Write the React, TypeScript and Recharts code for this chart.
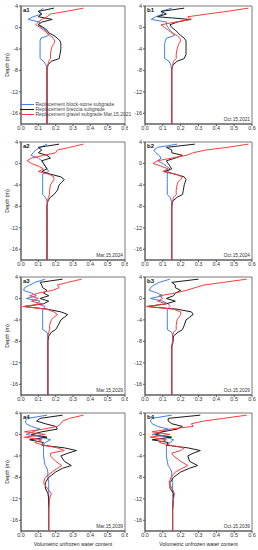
import React from 'react';
import { ScatterChart, Scatter, XAxis, YAxis, ReferenceArea } from 'recharts';

const depth = [3.6, 3.0, 2.5, 2.0, 1.5, 1.0, 0.5, 0.0, -0.5, -1.0, -1.5, -2.0, -2.5, -3.0, -3.5, -4.0, -5.0, -5.8, -6.3, -7.0, -8.0, -9.0, -10.0, -11.0, -12.0, -14.0, -16.0, -18.0];

const xTicks = [0, 0.1, 0.2, 0.3, 0.4, 0.5, 0.6];
const yTicks = [4, 0, -4, -8, -12, -16];

const seriesNames = ['Replacement block-stone subgrade', 'Replacement breccia subgrade', 'Replacement gravel subgrade'];
const panelIds = ['a1', 'b1', 'a2', 'b2', 'a3', 'b3', 'a4', 'b4'];
const panelDates = ['Mar.15,2021', 'Oct.15,2021', 'Mar.15,2024', 'Oct.15,2024', 'Mar.15,2029', 'Oct.15,2029', 'Mar.15,2039', 'Oct.15,2039'];

const a1Blue = [0.13, 0.10, 0.12, 0.07, 0.04, 0.11, 0.10, 0.12, 0.14, 0.15, 0.16, 0.115, 0.11, 0.11, 0.11, 0.11, 0.11, 0.11, 0.13, 0.145, 0.15, 0.15, 0.15, 0.15, 0.15, 0.15, 0.15, 0.15];
const a1Black = [0.19, 0.10, 0.12, 0.10, 0.18, 0.12, 0.10, 0.13, 0.15, 0.16, 0.19, 0.21, 0.225, 0.23, 0.23, 0.23, 0.225, 0.22, 0.175, 0.155, 0.15, 0.15, 0.15, 0.15, 0.15, 0.15, 0.15, 0.15];
const a1Red = [0.36, 0.26, 0.17, 0.15, 0.12, 0.10, 0.085, 0.11, 0.13, 0.15, 0.17, 0.185, 0.195, 0.19, 0.18, 0.175, 0.17, 0.17, 0.16, 0.155, 0.15, 0.15, 0.15, 0.15, 0.15, 0.15, 0.15, 0.15];

const b1Blue = [0.15, 0.09, 0.10, 0.06, 0.035, 0.12, 0.12, 0.13, 0.14, 0.155, 0.165, 0.12, 0.115, 0.11, 0.11, 0.11, 0.11, 0.11, 0.135, 0.145, 0.15, 0.15, 0.15, 0.15, 0.15, 0.15, 0.15, 0.15];
const b1Black = [0.22, 0.09, 0.12, 0.07, 0.25, 0.18, 0.14, 0.15, 0.17, 0.185, 0.20, 0.22, 0.23, 0.23, 0.23, 0.23, 0.23, 0.22, 0.18, 0.156, 0.15, 0.15, 0.15, 0.15, 0.15, 0.15, 0.15, 0.15];
const b1Red = [0.58, 0.46, 0.35, 0.24, 0.26, 0.17, 0.09, 0.11, 0.13, 0.15, 0.18, 0.195, 0.20, 0.19, 0.185, 0.18, 0.175, 0.175, 0.16, 0.155, 0.15, 0.15, 0.15, 0.15, 0.15, 0.15, 0.15, 0.15];

const a2Blue = [0.15, 0.11, 0.085, 0.07, 0.058, 0.10, 0.12, 0.13, 0.14, 0.15, 0.16, 0.125, 0.125, 0.125, 0.125, 0.125, 0.125, 0.125, 0.14, 0.15, 0.15, 0.15, 0.15, 0.15, 0.15, 0.15, 0.15, 0.15];
const a2Black = [0.22, 0.10, 0.12, 0.10, 0.15, 0.17, 0.12, 0.13, 0.14, 0.15, 0.12, 0.17, 0.23, 0.25, 0.235, 0.22, 0.21, 0.19, 0.17, 0.155, 0.15, 0.15, 0.15, 0.15, 0.15, 0.15, 0.15, 0.15];
const a2Red = [0.36, 0.28, 0.21, 0.20, 0.13, 0.06, 0.035, 0.06, 0.10, 0.13, 0.10, 0.16, 0.19, 0.19, 0.18, 0.17, 0.165, 0.165, 0.158, 0.153, 0.15, 0.15, 0.15, 0.15, 0.15, 0.15, 0.15, 0.15];

const b2Blue = [0.18, 0.07, 0.05, 0.06, 0.08, 0.09, 0.07, 0.10, 0.12, 0.14, 0.13, 0.125, 0.125, 0.125, 0.125, 0.125, 0.125, 0.125, 0.14, 0.148, 0.15, 0.15, 0.15, 0.15, 0.15, 0.15, 0.15, 0.15];
const b2Black = [0.28, 0.12, 0.15, 0.15, 0.21, 0.17, 0.12, 0.13, 0.14, 0.15, 0.11, 0.17, 0.22, 0.23, 0.225, 0.22, 0.215, 0.21, 0.18, 0.156, 0.15, 0.15, 0.15, 0.15, 0.15, 0.15, 0.15, 0.15];
const b2Red = [0.58, 0.46, 0.34, 0.27, 0.23, 0.15, 0.07, 0.045, 0.09, 0.13, 0.10, 0.17, 0.21, 0.20, 0.185, 0.18, 0.175, 0.175, 0.16, 0.155, 0.15, 0.15, 0.15, 0.15, 0.15, 0.15, 0.15, 0.15];

const a3Blue = [0.14, 0.08, 0.05, 0.02, 0.015, 0.06, 0.09, 0.03, 0.11, 0.09, 0.14, 0.125, 0.125, 0.125, 0.125, 0.125, 0.125, 0.125, 0.15, 0.155, 0.155, 0.155, 0.155, 0.155, 0.155, 0.155, 0.155, 0.155];
const a3Black = [0.24, 0.11, 0.12, 0.125, 0.15, 0.13, 0.16, 0.11, 0.16, 0.13, 0.02, 0.15, 0.23, 0.27, 0.25, 0.23, 0.215, 0.20, 0.175, 0.16, 0.155, 0.155, 0.155, 0.155, 0.155, 0.155, 0.155, 0.155];
const a3Red = [0.35, 0.27, 0.21, 0.22, 0.18, 0.10, 0.05, 0.10, 0.06, 0.12, 0.01, 0.15, 0.19, 0.21, 0.19, 0.175, 0.165, 0.165, 0.16, 0.155, 0.155, 0.155, 0.155, 0.155, 0.155, 0.155, 0.155, 0.155];

const b3Blue = [0.14, 0.08, 0.05, 0.03, 0.025, 0.07, 0.10, 0.03, 0.10, 0.13, 0.14, 0.125, 0.125, 0.125, 0.125, 0.125, 0.125, 0.125, 0.15, 0.155, 0.16, 0.15, 0.15, 0.15, 0.15, 0.15, 0.15, 0.15];
const b3Black = [0.30, 0.15, 0.17, 0.17, 0.20, 0.17, 0.16, 0.12, 0.17, 0.12, 0.01, 0.18, 0.26, 0.27, 0.25, 0.23, 0.22, 0.21, 0.185, 0.16, 0.155, 0.15, 0.15, 0.15, 0.15, 0.15, 0.15, 0.15];
const b3Red = [0.57, 0.44, 0.33, 0.28, 0.23, 0.17, 0.08, 0.10, 0.07, 0.12, 0.01, 0.16, 0.20, 0.20, 0.19, 0.18, 0.175, 0.175, 0.16, 0.155, 0.155, 0.15, 0.15, 0.15, 0.15, 0.15, 0.15, 0.15];

const a4Blue = [0.15, 0.04, 0.025, 0.03, 0.06, 0.11, 0.07, 0.03, 0.12, 0.17, 0.14, 0.13, 0.13, 0.13, 0.13, 0.13, 0.135, 0.14, 0.15, 0.155, 0.155, 0.16, 0.16, 0.16, 0.16, 0.16, 0.16, 0.16];
const a4Black = [0.24, 0.11, 0.09, 0.14, 0.20, 0.21, 0.12, 0.06, 0.15, 0.05, 0.13, 0.12, 0.25, 0.32, 0.27, 0.23, 0.25, 0.29, 0.24, 0.20, 0.16, 0.14, 0.14, 0.155, 0.16, 0.16, 0.16, 0.16];
const a4Red = [0.36, 0.28, 0.24, 0.23, 0.21, 0.13, 0.02, 0.14, 0.02, 0.12, 0.08, 0.13, 0.21, 0.25, 0.17, 0.17, 0.20, 0.235, 0.21, 0.18, 0.14, 0.13, 0.15, 0.175, 0.165, 0.16, 0.16, 0.16];

const b4Blue = [0.15, 0.04, 0.03, 0.04, 0.07, 0.13, 0.09, 0.04, 0.12, 0.16, 0.14, 0.12, 0.12, 0.12, 0.12, 0.12, 0.125, 0.13, 0.14, 0.15, 0.15, 0.155, 0.155, 0.155, 0.155, 0.155, 0.155, 0.155];
const b4Black = [0.31, 0.13, 0.13, 0.15, 0.21, 0.18, 0.10, 0.06, 0.15, 0.04, 0.13, 0.12, 0.24, 0.31, 0.27, 0.24, 0.25, 0.295, 0.25, 0.20, 0.16, 0.14, 0.14, 0.16, 0.16, 0.155, 0.155, 0.155];
const b4Red = [0.57, 0.44, 0.33, 0.26, 0.27, 0.14, 0.04, 0.14, 0.03, 0.12, 0.08, 0.14, 0.22, 0.20, 0.15, 0.16, 0.20, 0.24, 0.21, 0.17, 0.145, 0.135, 0.15, 0.165, 0.16, 0.155, 0.155, 0.155];

const panelSeries = [
  [a1Blue, a1Black, a1Red],
  [b1Blue, b1Black, b1Red],
  [a2Blue, a2Black, a2Red],
  [b2Blue, b2Black, b2Red],
  [a3Blue, a3Black, a3Red],
  [b3Blue, b3Black, b3Red],
  [a4Blue, a4Black, a4Red],
  [b4Blue, b4Black, b4Red],
];

const COLORS = ['#3f7fe6', '#1a1a1a', '#ff3b3b'];
const FONT = "'Liberation Sans', Arial, sans-serif";
const ROW_TOPS = [6, 142, 277, 413];
const PLOT_H = 118;

const toPoints = (vals: number[]) => vals.map((v, i) => ({ x: v, y: depth[i] }));

function Panel({ index }: { index: number }) {
  const col = index % 2;
  const row = Math.floor(index / 2);
  const isA = col === 0;
  const yw = isA ? 21 : 17;
  const left = isA ? 0 : 128;
  const mTop = 2;
  const W = 128;
  const mRight = isA ? 3 : 4;
  const xh = 10;
  const H = mTop + PLOT_H + xh;
  const top = ROW_TOPS[row] - mTop;
  const plotLeft = yw;
  const plotRight = W - mRight;
  const tickStyle = { fontSize: 5.5, fill: '#333', fontFamily: FONT };
  return (
    <div style={{ position: 'absolute', left, top, width: W, height: H }}>
      <ScatterChart width={W} height={H} margin={{ top: mTop, right: mRight, bottom: 0, left: 0 }}>
        <XAxis
          type="number"
          dataKey="x"
          domain={[0, 0.6]}
          ticks={xTicks}
          interval={0}
          allowDataOverflow
          height={xh}
          tickSize={2}
          tickMargin={0}
          tick={tickStyle}
          stroke="#555"
          tickFormatter={(v: number) => v.toFixed(1)}
        />
        <YAxis
          type="number"
          dataKey="y"
          domain={[-18, 4]}
          ticks={yTicks}
          interval={0}
          allowDataOverflow
          width={yw}
          tickSize={2}
          tickMargin={1}
          tick={tickStyle}
          stroke="#555"
        />
        <ReferenceArea x1={0} x2={0.6} y1={-18} y2={4} fill="none" stroke="#555" strokeWidth={0.8} ifOverflow="visible" />
        {panelSeries[index].map((vals, si) => (
          <Scatter
            key={si}
            name={seriesNames[si]}
            data={toPoints(vals)}
            line={{ stroke: COLORS[si], strokeWidth: 1 }}
            lineType="joint"
            fill={COLORS[si]}
            shape={() => <g />}
            isAnimationActive={false}
          />
        ))}
      </ScatterChart>
      <div style={{ position: 'absolute', left: plotLeft + 2, top: mTop + 1, fontSize: 6, fontWeight: 'bold', fontFamily: FONT, color: '#111', lineHeight: '7px' }}>
        {panelIds[index]}
      </div>
      {index !== 0 && (
        <div style={{ position: 'absolute', right: W - plotRight + 2, top: mTop + PLOT_H - 7.5, fontSize: 4.8, fontFamily: FONT, color: '#333', lineHeight: '6px', whiteSpace: 'nowrap' }}>
          {panelDates[index]}
        </div>
      )}
    </div>
  );
}

function Legend() {
  const rows = [
    { c: COLORS[0], t: seriesNames[0] },
    { c: COLORS[1], t: seriesNames[1] },
    { c: COLORS[2], t: seriesNames[2] + ' ' + panelDates[0] },
  ];
  return (
    <div style={{ position: 'absolute', left: 20, top: 102.2 }}>
      {rows.map((r, i) => (
        <div key={i} style={{ display: 'flex', alignItems: 'center', height: 5, whiteSpace: 'nowrap' }}>
          <div style={{ width: 14, height: 1.2, background: r.c, marginRight: 1.5 }} />
          <span style={{ fontSize: 5, fontFamily: FONT, color: '#444', lineHeight: '5px' }}>{r.t}</span>
        </div>
      ))}
    </div>
  );
}

export default function App() {
  return (
    <div style={{ position: 'fixed', left: 0, top: 0, width: 258, height: 550, background: '#fff', overflow: 'hidden' }}>
      {panelIds.map((_, i) => (
        <Panel key={i} index={i} />
      ))}
      <Legend />
      {ROW_TOPS.map((t, r) => (
        <div
          key={r}
          style={{
            position: 'absolute',
            left: 7,
            top: t + PLOT_H / 2,
            transform: 'translate(-50%, -50%) rotate(-90deg)',
            fontSize: 5.3,
            fontFamily: FONT,
            color: '#222',
            whiteSpace: 'nowrap',
          }}
        >
          Depth (m)
        </div>
      ))}
      {[73, 198.5].map((cx, i) => (
        <div
          key={i}
          style={{
            position: 'absolute',
            left: cx,
            top: 544,
            transform: 'translate(-50%, -50%)',
            fontSize: 5.2,
            fontFamily: FONT,
            color: '#222',
            whiteSpace: 'nowrap',
          }}
        >
          Volumetric unfrozen water content
        </div>
      ))}
    </div>
  );
}
